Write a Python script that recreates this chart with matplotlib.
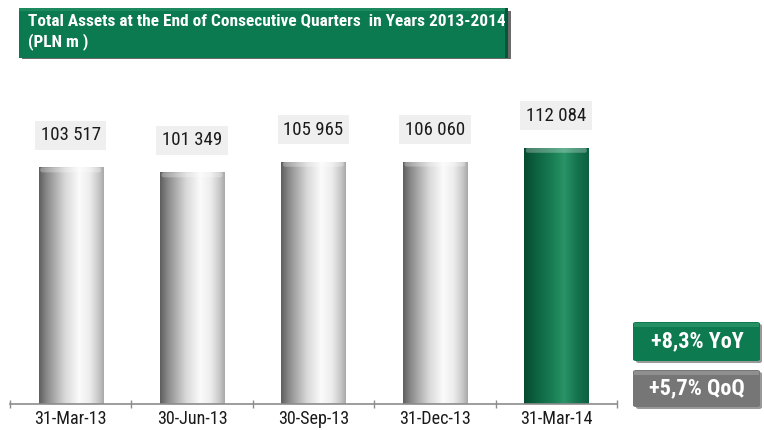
import numpy as np
import matplotlib
matplotlib.use("Agg")
import matplotlib.pyplot as plt
from matplotlib import font_manager
from matplotlib.patches import Rectangle, FancyBboxPatch
from matplotlib.colors import LinearSegmentedColormap

# ---- data ----
categories = ["31-Mar-13", "30-Jun-13", "30-Sep-13", "31-Dec-13", "31-Mar-14"]
values = [103517, 101349, 105965, 106060, 112084]
value_labels = ["103 517", "101 349", "105 965", "106 060", "112 084"]
title_text = "Total Assets at the End of Consecutive Quarters  in Years 2013-2014\n(PLN m )"
badge_texts = ["+8,3% YoY", "+5,7% QoQ"]

names = {f.name for f in font_manager.fontManager.ttflist}
narrow = "Liberation Sans"
for cand in ["Roboto Condensed", "Archivo Narrow", "PT Sans Narrow", "Liberation Sans Narrow",
             "Arial Narrow", "Encode Sans Condensed", "IBM Plex Sans Condensed",
             "Barlow Semi Condensed", "Open Sans Condensed", "Pragati Narrow"]:
    if cand in names:
        narrow = cand
        break
plt.rcParams["font.family"] = [narrow, "DejaVu Sans"]

W, H = 764, 430
fig = plt.figure(figsize=(W / 100, H / 100), dpi=100)
renderer = fig.canvas.get_renderer()


def fit(text_obj, target_px):
    bb = text_obj.get_window_extent(renderer=renderer)
    if bb.width > 0:
        text_obj.set_fontsize(text_obj.get_fontsize() * target_px / bb.width)


def fx(px):
    return px / W


def fy(py):
    return 1 - py / H


# axes: x 10..617 px, baseline y=404, top y=62
ax = fig.add_axes([fx(10), fy(404), fx(617) - fx(10), (404 - 62) / H])
ymax = 342 / 0.002286
ax.set_xlim(-0.5, len(categories) - 0.5)
ax.set_ylim(0, ymax)
ax.patch.set_alpha(0)
for s in ["top", "right", "left"]:
    ax.spines[s].set_visible(False)
ax.spines["bottom"].set_color("#8c8c8c")
ax.spines["bottom"].set_linewidth(1.2)
ax.set_yticks([])
ax.set_xticks(range(len(categories)))
ax.set_xticklabels(categories, fontsize=13)
ax.tick_params(axis="x", which="major", length=0, pad=4)
ax.set_xticks(np.arange(-0.5, len(categories), 1.0), minor=True)
ax.tick_params(axis="x", which="minor", length=6, direction="inout", color="#8c8c8c", width=1)
fig.canvas.draw()
lab0 = ax.get_xticklabels()[0]
bb = lab0.get_window_extent(renderer=renderer)
fs_x = 13 * 72 / bb.width
for lab in ax.get_xticklabels():
    lab.set_fontsize(fs_x)
    lab.set_color("#1a1a1a")

gray_cmap = LinearSegmentedColormap.from_list(
    "g", [(0, "#5e5e5e"), (0.12, "#8a8a8a"), (0.4, "#d8d8d8"), (0.62, "#fbfbfb"),
          (0.78, "#ededed"), (0.92, "#c8c8c8"), (1, "#a8a8a8")])
green_cmap = LinearSegmentedColormap.from_list(
    "gr", [(0, "#064a30"), (0.15, "#0b5e3d"), (0.45, "#1a7f55"), (0.62, "#2a9468"),
           (0.8, "#167650"), (1, "#0c6040")])

bar_w = 0.53
grad = np.linspace(0, 1, 256).reshape(1, -1)
bars = ax.bar(range(len(values)), values, width=bar_w, color="none", edgecolor="none")
cap_h = 5 / 0.002286
val_texts = []
for i, (b, v) in enumerate(zip(bars, values)):
    cmap = green_cmap if i == len(values) - 1 else gray_cmap
    x0 = b.get_x()
    x1 = x0 + b.get_width()
    im = ax.imshow(grad, extent=(x0, x1, 0, v), cmap=cmap, aspect="auto",
                   interpolation="bicubic", zorder=2)
    im.set_clip_path(b)
    cap = FancyBboxPatch((x0 + 0.012, v - cap_h), b.get_width() - 0.024, cap_h,
                         boxstyle="round,pad=0,rounding_size=0.02",
                         mutation_aspect=cap_h / 0.03,
                         facecolor="white", edgecolor="none", alpha=0.28, zorder=3)
    ax.add_patch(cap)
    t = ax.annotate(value_labels[i], (i, v), xytext=(0, 23), textcoords="offset points",
                    ha="center", va="center", fontsize=13.5, color="#1a1a1a",
                    bbox=dict(boxstyle="square,pad=0.3", facecolor="#efefef", edgecolor="none"),
                    zorder=5)
    val_texts.append(t)
ax.set_xlim(-0.5, len(categories) - 0.5)
ax.set_ylim(0, ymax)
fig.canvas.draw()
bbv = val_texts[0].get_window_extent(renderer=renderer)
fs_v = 13.5 * 60 / bbv.width
for t in val_texts:
    t.set_fontsize(fs_v)

# ---- title box ----
fig.add_artist(Rectangle((fx(22), fy(59)), fx(511) - fx(22), (59 - 11) / H,
                         transform=fig.transFigure, facecolor="#6a6a6a", edgecolor="none"))
fig.add_artist(Rectangle((fx(19), fy(58)), fx(508) - fx(19), (58 - 8) / H,
                         transform=fig.transFigure, facecolor="#0b7a50", edgecolor="none"))
fig.add_artist(Rectangle((fx(505), fy(58)), fx(508) - fx(505), (58 - 8) / H,
                         transform=fig.transFigure, facecolor="#05553a", edgecolor="none"))
fig.add_artist(Rectangle((fx(19), fy(11)), fx(505) - fx(19), 3 / H,
                         transform=fig.transFigure, facecolor="#2a9468", edgecolor="none", alpha=0.6))
title_line1 = fig.text(fx(28), fy(22), title_text.split("\n")[0], color="white", fontsize=11.5,
                       fontweight="bold", ha="left", va="center")
fig.canvas.draw()
fit(title_line1, 476)
fig.text(fx(28), fy(42), title_text.split("\n")[1], color="white",
         fontsize=title_line1.get_fontsize(), fontweight="bold", ha="left", va="center")

# ---- badges ----
badge_colors = [("#0d7a4f", "#2f9a6d"), ("#767676", "#9a9a9a")]
badge_y = [(322, 361), (370, 407)]
badge_objs = []
for (t, (c, ch), (y0, y1)) in zip(badge_texts, badge_colors, badge_y):
    fig.add_artist(FancyBboxPatch((fx(636), fy(y1 + 2)), fx(762) - fx(636), (y1 - y0) / H,
                                  boxstyle="round,pad=0,rounding_size=0.004",
                                  transform=fig.transFigure, facecolor="#555555",
                                  edgecolor="none", alpha=0.6))
    fig.add_artist(FancyBboxPatch((fx(633), fy(y1)), fx(760) - fx(633), (y1 - y0) / H,
                                  boxstyle="round,pad=0,rounding_size=0.004",
                                  transform=fig.transFigure, facecolor=c, edgecolor="none"))
    fig.add_artist(Rectangle((fx(634), fy(y0 + 5)), fx(759) - fx(634), 4 / H,
                             transform=fig.transFigure, facecolor=ch, edgecolor="none", alpha=0.7))
    bo = fig.text(fx(697), fy((y0 + y1) / 2), t, color="white", fontsize=13, fontweight="bold",
                  ha="center", va="center")
    badge_objs.append(bo)
fig.canvas.draw()
bbb = badge_objs[0].get_window_extent(renderer=renderer)
fs_b = 13 * 93 / bbb.width
for bo in badge_objs:
    bo.set_fontsize(fs_b)

fig.savefig("out.png", dpi=100)
